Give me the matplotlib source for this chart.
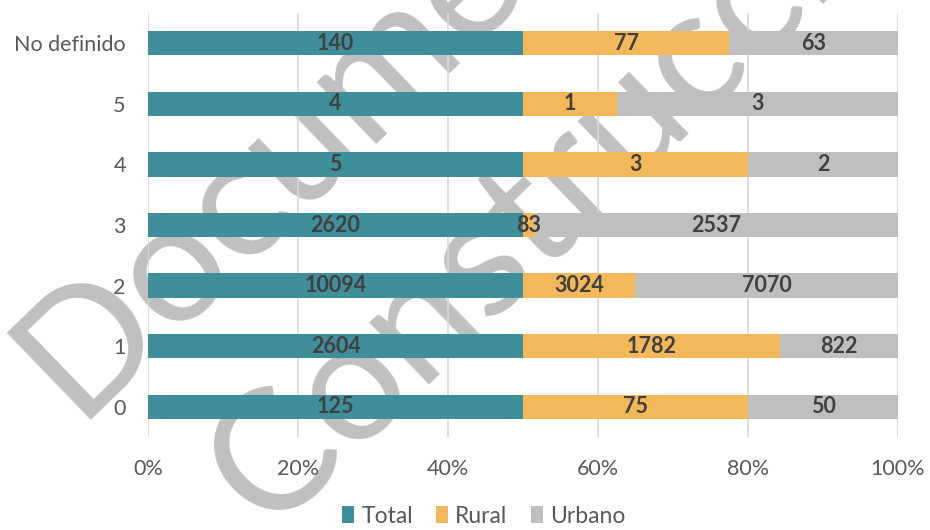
import matplotlib
matplotlib.use("Agg")
import matplotlib.pyplot as plt
import numpy as np

categories = ["0", "1", "2", "3", "4", "5", "No definido"]
total = [125, 2604, 10094, 2620, 5, 4, 140]
rural = [75, 1782, 3024, 83, 3, 1, 77]
urbano = [50, 822, 7070, 2537, 2, 3, 63]
series_names = ["Total", "Rural", "Urbano"]
colors = ["#3F8F9B", "#F3B85A", "#BFBFBF"]
xticks = [0, 20, 40, 60, 80, 100]
xticklabels = ["0%", "20%", "40%", "60%", "80%", "100%"]
watermark = ["Documento en", "Construcción"]

plt.rcParams['font.family'] = ['Lato', 'DejaVu Sans']

fig = plt.figure(figsize=(9.3, 5.3), dpi=100)
ax = fig.add_axes([148/930, 1-437/530, 750/930, 424/530])

data = np.array([total, rural, urbano], dtype=float)
sums = data.sum(axis=0)
pct = data / sums * 100
y = np.arange(len(categories))
left = np.zeros(len(categories))
for i, name in enumerate(series_names):
    ax.barh(y, pct[i], left=left, height=0.4, color=colors[i], label=name, zorder=2)
    for j in range(len(categories)):
        ax.text(left[j] + pct[i][j]/2, y[j], f"{int(data[i][j])}", ha='center', va='center',
                fontsize=15.5, fontweight='bold', color='#404040', zorder=3)
    left += pct[i]

ax.set_xlim(0, 100)
ax.set_ylim(-0.5, 6.5)
ax.set_yticks(y)
ax.set_yticklabels(categories, fontsize=15.5, color='#595959')
ax.set_xticks(xticks)
ax.set_xticklabels(xticklabels, fontsize=15.5, color='#595959')
ax.tick_params(axis='both', length=0)
ax.tick_params(axis='y', pad=16)
ax.tick_params(axis='x', pad=16)
ax.grid(axis='x', color='#D9D9D9', linewidth=1.2, zorder=0)
for s in ax.spines.values():
    s.set_visible(False)

leg = fig.legend(loc='lower center', bbox_to_anchor=(0.52, -0.033), ncol=3, frameon=False,
                 fontsize=16.5, handlelength=0.55, handleheight=0.75, handletextpad=0.3,
                 columnspacing=1.0)
for t in leg.get_texts():
    t.set_color('#595959')

wm_kw = dict(fontsize=122, color='#C0C0C0', rotation=44, rotation_mode='anchor',
             ha='left', va='baseline', zorder=1.5, transform=fig.transFigure,
             clip_on=False)
ax.text(80/930, 1-430/530, watermark[0], **wm_kw)
ax.text(268/930, 1-532/530, watermark[1], **wm_kw)

fig.savefig("out.png", dpi=100)
